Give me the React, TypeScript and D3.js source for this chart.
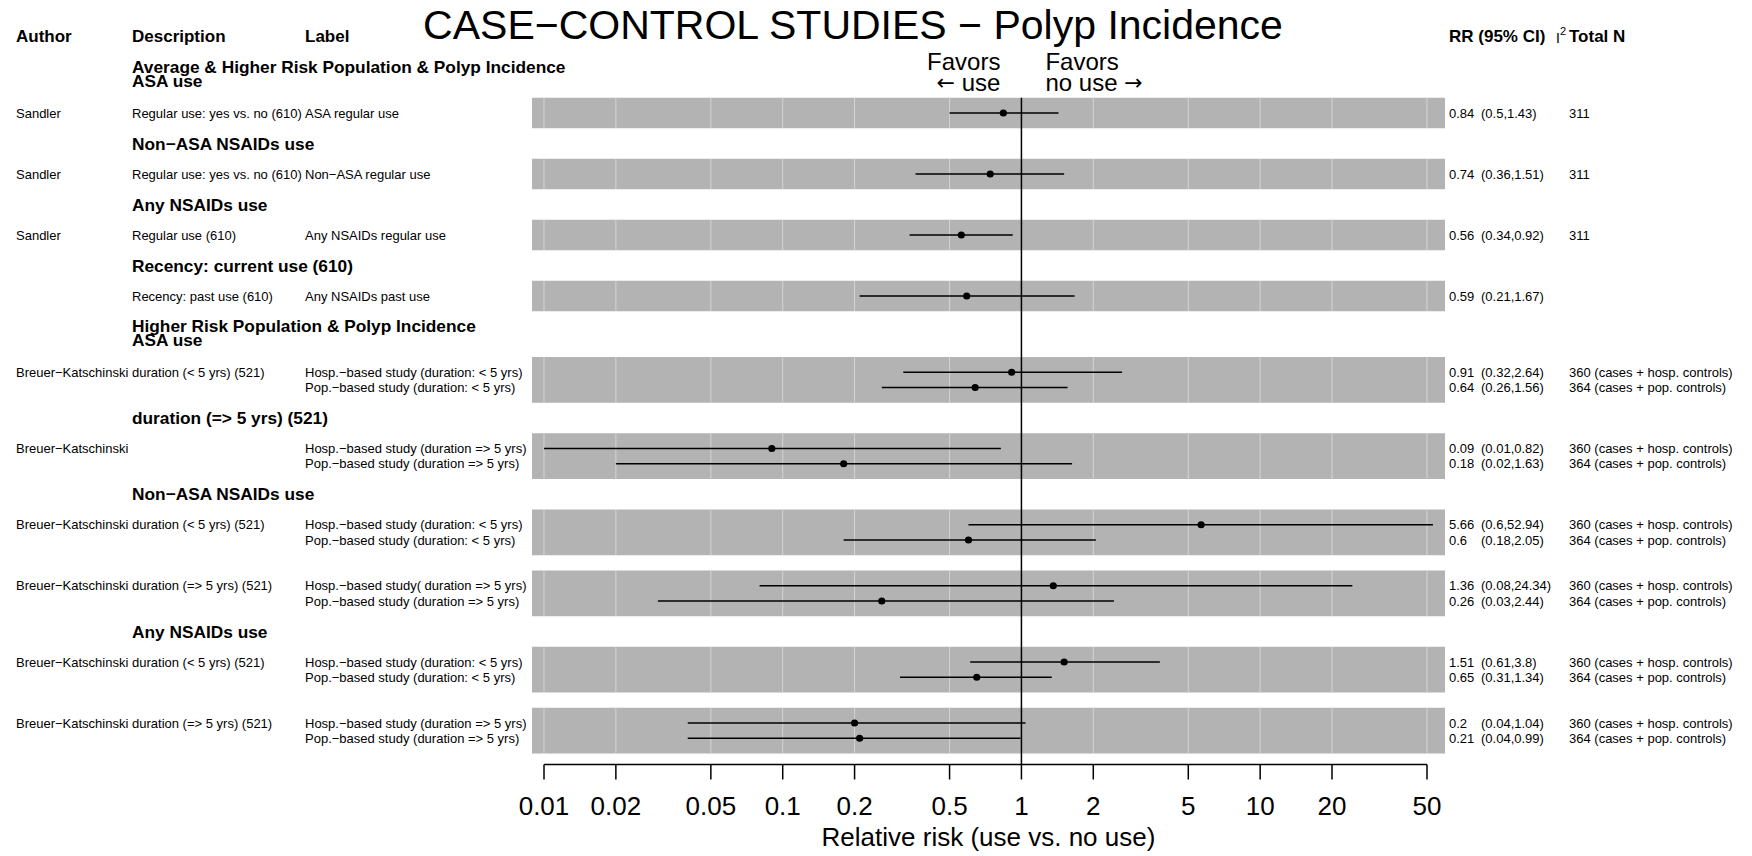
import React from "react";
import * as d3 from "d3";

// Study rows, top to bottom
const authors = [
  "Sandler", "Sandler", "Sandler", "",
  "Breuer−Katschinski", "", "Breuer−Katschinski", "",
  "Breuer−Katschinski", "", "Breuer−Katschinski", "",
  "Breuer−Katschinski", "", "Breuer−Katschinski", "",
];
const descriptions = [
  "Regular use: yes vs. no (610)", "Regular use: yes vs. no (610)", "Regular use (610)", "Recency: past use (610)",
  "duration (< 5 yrs) (521)", "", "", "",
  "duration (< 5 yrs) (521)", "", "duration (=> 5 yrs) (521)", "",
  "duration (< 5 yrs) (521)", "", "duration (=> 5 yrs) (521)", "",
];
const labels = [
  "ASA regular use", "Non−ASA regular use", "Any NSAIDs regular use", "Any NSAIDs past use",
  "Hosp.−based study (duration: < 5 yrs)", "Pop.−based study (duration: < 5 yrs)",
  "Hosp.−based study (duration => 5 yrs)", "Pop.−based study (duration => 5 yrs)",
  "Hosp.−based study (duration: < 5 yrs)", "Pop.−based study (duration: < 5 yrs)",
  "Hosp.−based study( duration => 5 yrs)", "Pop.−based study (duration => 5 yrs)",
  "Hosp.−based study (duration: < 5 yrs)", "Pop.−based study (duration: < 5 yrs)",
  "Hosp.−based study (duration => 5 yrs)", "Pop.−based study (duration => 5 yrs)",
];
const rr = [0.84, 0.74, 0.56, 0.59, 0.91, 0.64, 0.09, 0.18, 5.66, 0.6, 1.36, 0.26, 1.51, 0.65, 0.2, 0.21];
const lower = [0.5, 0.36, 0.34, 0.21, 0.32, 0.26, 0.01, 0.02, 0.6, 0.18, 0.08, 0.03, 0.61, 0.31, 0.04, 0.04];
const upper = [1.43, 1.51, 0.92, 1.67, 2.64, 1.56, 0.82, 1.63, 52.94, 2.05, 24.34, 2.44, 3.8, 1.34, 1.04, 0.99];
const totals = [
  "311", "311", "311", "",
  "360 (cases + hosp. controls)", "364 (cases + pop. controls)",
  "360 (cases + hosp. controls)", "364 (cases + pop. controls)",
  "360 (cases + hosp. controls)", "364 (cases + pop. controls)",
  "360 (cases + hosp. controls)", "364 (cases + pop. controls)",
  "360 (cases + hosp. controls)", "364 (cases + pop. controls)",
  "360 (cases + hosp. controls)", "364 (cases + pop. controls)",
];

// Groups (grey panels) and the headings above them
const groupSizes = [1, 1, 1, 1, 2, 2, 2, 2, 2, 2];
const groupHeadings = [
  ["Average & Higher Risk Population & Polyp Incidence", "ASA use"],
  ["Non−ASA NSAIDs use"],
  ["Any NSAIDs use"],
  ["Recency: current use (610)"],
  ["Higher Risk Population & Polyp Incidence", "ASA use"],
  ["duration (=> 5 yrs) (521)"],
  ["Non−ASA NSAIDs use"],
  [],
  ["Any NSAIDs use"],
  [],
];

const xTicks = [0.01, 0.02, 0.05, 0.1, 0.2, 0.5, 1, 2, 5, 10, 20, 50];

const W = 1752;
const H = 856;
const FONT = "'Liberation Sans', Arial, Helvetica, sans-serif";
const ARROW_FONT = "'DejaVu Sans', sans-serif";
const PANEL_BG = "#b3b3b3";
const GRID = "#d4d4d4";

// columns
const colAuthor = 16;
const colDesc = 132;
const colLabel = 305;
const colRR = 1449;
const colCI = 1481;
const colN = 1569;

const App = () => {
  // line index -> pixel
  const yLine = d3.scaleLinear().domain([0, 1]).range([113, 128.25]);
  const x = d3.scaleLog().domain([0.01, 50]).range([544, 1427]);

  // work out which line each row / heading sits on
  const rowLine: number[] = [];
  const panels: { first: number; last: number }[] = [];
  const heads: { line: number; text: string[] }[] = [];
  let prev = -5; // header line
  let r = 0;
  groupSizes.forEach((n, g) => {
    const head = groupHeadings[g];
    if (head.length) heads.push({ line: prev + 1 + head.length, text: head });
    const first = prev + 3 + head.length;
    for (let i = 0; i < n; i++) rowLine[r++] = first + i;
    panels.push({ first, last: first + n - 1 });
    prev = first + n - 1;
  });

  const panelLeft = x(0.01) - 12;
  const panelRight = x(50) + 18;
  const axisY = yLine(prev + 1) + 11;
  const x1 = x(1);

  return (
    <svg
      width={W}
      height={H}
      style={{ position: "absolute", left: 0, top: 0, background: "#fff" }}
      fontFamily={FONT}
    >
      {/* Title */}
      <text x={853} y={39} textAnchor="middle" fontSize={41}>
        CASE−CONTROL STUDIES − Polyp Incidence
      </text>

      {/* Column headers */}
      <g fontWeight="bold" fontSize={17}>
        <text x={colAuthor} y={yLine(-5)} dominantBaseline="central">Author</text>
        <text x={colDesc} y={yLine(-5)} dominantBaseline="central">Description</text>
        <text x={colLabel} y={yLine(-5)} dominantBaseline="central">Label</text>
        <text x={colRR} y={yLine(-5)} dominantBaseline="central">RR (95% CI)</text>
        <text x={colN} y={yLine(-5)} dominantBaseline="central">Total N</text>
      </g>
      <text x={1556} y={yLine(-5) + 6} fontSize={14}>
        I<tspan dy={-8} fontSize={11}>2</tspan>
      </text>

      {/* Favors */}
      <g fontSize={24}>
        <text x={x1 - 21} y={61} textAnchor="end" dominantBaseline="central">Favors</text>
        <text x={x1 - 21} y={82} textAnchor="end" dominantBaseline="central">
          <tspan fontFamily={ARROW_FONT} fontSize={22}>←</tspan> use
        </text>
        <text x={x1 + 24} y={61} dominantBaseline="central">Favors</text>
        <text x={x1 + 24} y={82} dominantBaseline="central">
          no use <tspan fontFamily={ARROW_FONT} fontSize={22}>→</tspan>
        </text>
      </g>

      {/* Group headings */}
      <g fontWeight="bold" fontSize={17.3}>
        {heads.map((h, i) =>
          h.text.map((t, j) => {
            const fromLast = h.text.length - 1 - j;
            const y = h.text.length > 1 ? yLine(h.line) - 2 - fromLast * 14 : yLine(h.line);
            return (
              <text key={`h${i}-${j}`} x={colDesc} y={y} dominantBaseline="central">
                {t}
              </text>
            );
          })
        )}
      </g>

      {/* Panels with grid */}
      {panels.map((p, i) => {
        const top = yLine(p.first - 1);
        const bottom = yLine(p.last + 1);
        return (
          <g key={`p${i}`}>
            <rect x={panelLeft} y={top} width={panelRight - panelLeft} height={bottom - top} fill={PANEL_BG} />
            {xTicks.map((t) => (
              <line key={t} x1={x(t)} x2={x(t)} y1={top} y2={bottom} stroke={GRID} strokeWidth={1} />
            ))}
          </g>
        );
      })}

      {/* reference line at 1 */}
      <line x1={x1} x2={x1} y1={yLine(-1)} y2={axisY} stroke="#000" strokeWidth={1.5} />

      {/* CIs and points */}
      {rr.map((v, i) => (
        <g key={`ci${i}`}>
          <line x1={x(lower[i])} x2={x(upper[i])} y1={yLine(rowLine[i])} y2={yLine(rowLine[i])} stroke="#000" strokeWidth={1.4} />
          <circle cx={x(v)} cy={yLine(rowLine[i])} r={3.6} fill="#000" />
        </g>
      ))}

      {/* Row text */}
      <g fontSize={13}>
        {rr.map((v, i) => {
          const y = yLine(rowLine[i]);
          return (
            <g key={`t${i}`}>
              <text x={colAuthor} y={y} dominantBaseline="central">{authors[i]}</text>
              <text x={colDesc} y={y} dominantBaseline="central">{descriptions[i]}</text>
              <text x={colLabel} y={y} dominantBaseline="central">{labels[i]}</text>
              <text x={colRR} y={y} dominantBaseline="central">{String(v)}</text>
              <text x={colCI} y={y} dominantBaseline="central">{`(${lower[i]},${upper[i]})`}</text>
              <text x={colN} y={y} dominantBaseline="central">{totals[i]}</text>
            </g>
          );
        })}
      </g>

      {/* x axis */}
      <line x1={x(xTicks[0])} x2={x(xTicks[xTicks.length - 1])} y1={axisY} y2={axisY} stroke="#000" strokeWidth={1.5} />
      {xTicks.map((t) => (
        <g key={`tick${t}`}>
          <line x1={x(t)} x2={x(t)} y1={axisY} y2={axisY + 15} stroke="#000" strokeWidth={1.5} />
          <text x={x(t)} y={axisY + 41} textAnchor="middle" dominantBaseline="central" fontSize={26}>
            {String(t)}
          </text>
        </g>
      ))}
      <text x={(panelLeft + panelRight) / 2} y={837} textAnchor="middle" dominantBaseline="central" fontSize={26}>
        Relative risk (use vs. no use)
      </text>
    </svg>
  );
};

export default App;
